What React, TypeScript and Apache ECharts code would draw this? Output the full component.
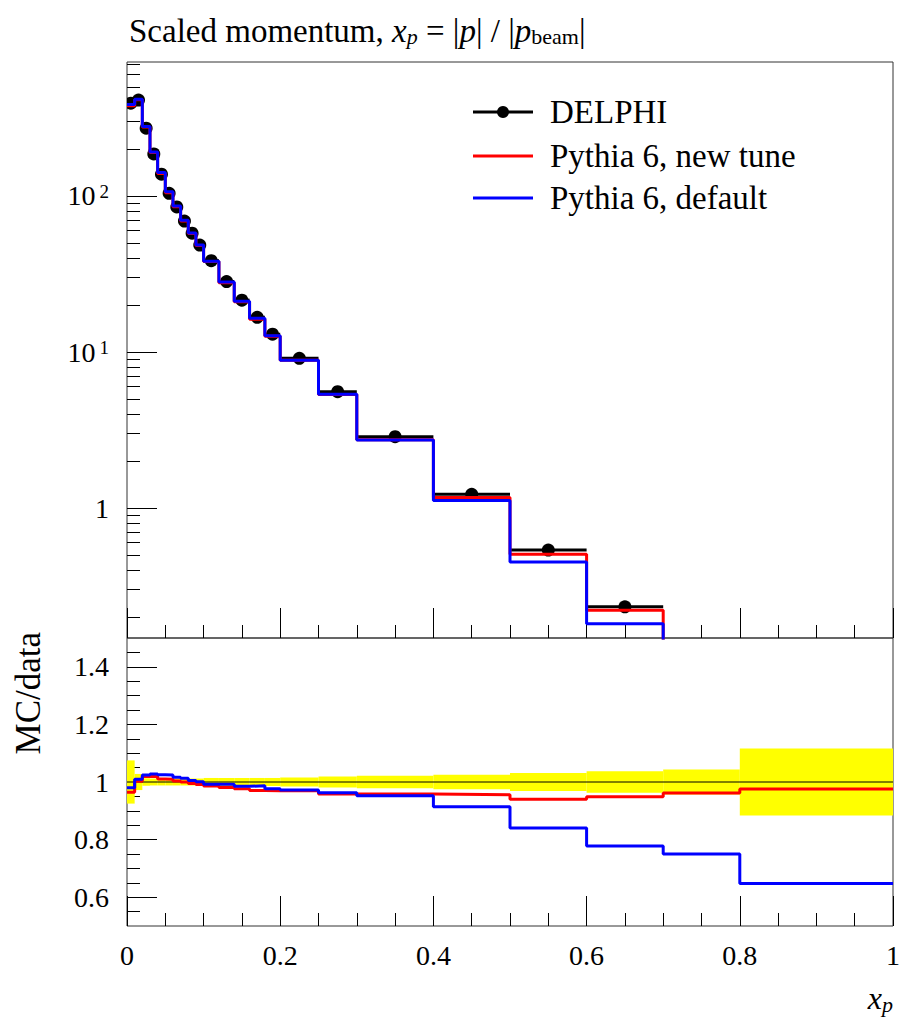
import React, { useEffect, useRef } from 'react';
import * as echarts from 'echarts';

// ---------------- data ----------------
const binEdges = [0, 0.01, 0.02, 0.03, 0.04, 0.05, 0.06, 0.07, 0.08, 0.09, 0.1, 0.12, 0.14, 0.16, 0.18, 0.2, 0.25, 0.3, 0.4, 0.5, 0.6, 0.7, 0.8, 1.0];
const delphiValues = [393, 412, 272, 186, 138, 104, 85, 69, 57.7, 48.5, 38.5, 28.3, 21.5, 16.7, 13.0, 9.12, 5.57, 2.865, 1.224, 0.538, 0.233, 0.09, 0.025];
const delphiRelErr = [0.075, 0.028, 0.013, 0.012, 0.012, 0.012, 0.012, 0.012, 0.012, 0.012, 0.014, 0.014, 0.014, 0.014, 0.014, 0.016, 0.019, 0.022, 0.025, 0.031, 0.037, 0.043, 0.116];
const newTuneValues = [378.9, 413.2, 277.2, 189.7, 139.4, 105.0, 85.3, 69.0, 57.4, 48.1, 37.96, 27.76, 21.0, 16.2, 12.61, 8.84, 5.34, 2.745, 1.17, 0.506, 0.221, 0.0866, 0.0244];
const defaultValues = [385.1, 416.1, 278.5, 191.2, 141.5, 106.5, 86.4, 69.9, 58.0, 48.55, 38.2, 28.07, 21.18, 16.48, 12.69, 8.87, 5.36, 2.727, 1.119, 0.452, 0.1813, 0.0675, 0.0162];

const xTickLabels = ['0', '0.2', '0.4', '0.6', '0.8', '1'];
const mainYTicks = [1, 10, 100];
const mainYMinorTicks = [0.2, 0.3, 0.4, 0.5, 0.6, 0.7, 0.8, 0.9, 2, 3, 4, 5, 6, 7, 8, 9, 20, 30, 40, 50, 60, 70, 80, 90, 200, 300, 400, 500, 600, 700];
const ratioYTicks = [0.6, 0.8, 1, 1.2, 1.4];
const ratioYTickLabels = ['0.6', '0.8', '1', '1.2', '1.4'];
const ratioYMinorTicks = [0.55, 0.65, 0.7, 0.75, 0.85, 0.9, 0.95, 1.05, 1.1, 1.15, 1.25, 1.3, 1.35, 1.45];

const seriesNames = ['DELPHI', 'Pythia 6, new tune', 'Pythia 6, default'];
const seriesColors = ['#000000', '#ff0000', '#0000ff'];

// ---------------- layout ----------------
const FONT = 'Liberation Serif';
const G_LEFT = 127;
const G_W = 766;
const MAIN_TOP = 62;
const MAIN_H = 576;
const RATIO_TOP = 638;
const RATIO_H = 288;
const MAIN_MIN = 0.147;
const MAIN_MAX = 722;

function stepData(vals: number[]) {
  const d = vals.map((v, i) => [binEdges[i], v]);
  d.push([binEdges[binEdges.length - 1], vals[vals.length - 1]]);
  return d;
}

function buildOption() {
  const tickLine = { color: '#000', width: 1 };
  const xAxis = (gridIndex: number, showLabel: boolean) => ({
    type: 'value',
    gridIndex,
    min: 0,
    max: 1,
    interval: 0.2,
    axisLine: { show: false },
    axisTick: { show: true, inside: true, length: 30, lineStyle: tickLine },
    minorTick: { show: true, splitNumber: 4, length: 13, lineStyle: tickLine },
    splitLine: { show: false },
    minorSplitLine: { show: false },
    axisLabel: {
      show: showLabel,
      fontFamily: FONT,
      fontSize: 28,
      color: '#000',
      margin: 15,
      formatter: (v: number) => xTickLabels[Math.round(v / 0.2)] ?? '',
    },
  });

  const ratios = (mc: number[]) => mc.map((m, i) => m / delphiValues[i]);

  const dataItems = delphiValues.map((v, i) => [
    binEdges[i],
    binEdges[i + 1],
    (binEdges[i] + binEdges[i + 1]) / 2,
    v,
    delphiRelErr[i],
  ]);
  const bandItems = delphiRelErr.map((e, i) => [binEdges[i], binEdges[i + 1], e]);

  const legendY = [112, 156, 198];
  const legendGraphics: any[] = [];
  seriesNames.forEach((name, i) => {
    legendGraphics.push({
      type: 'line',
      shape: { x1: 473, y1: legendY[i], x2: 533, y2: legendY[i] },
      style: { stroke: seriesColors[i], lineWidth: 3 },
    });
    if (i === 0) {
      legendGraphics.push({
        type: 'circle',
        shape: { cx: 503, cy: legendY[i], r: 6 },
        style: { fill: '#000' },
      });
    }
    legendGraphics.push({
      type: 'text',
      x: 550,
      y: legendY[i],
      style: {
        text: name,
        fontFamily: FONT,
        fontSize: 33,
        fill: '#000',
        verticalAlign: 'middle',
        align: 'left',
      },
    });
  });

  return {
    animation: false,
    backgroundColor: '#fff',
    title: {
      text: 'Scaled momentum, {i|x}{si|p} = |{i|p}| / |{i|p}{s|beam}|',
      left: 124,
      top: 9,
      textStyle: {
        fontFamily: FONT,
        fontSize: 33,
        fontWeight: 'normal',
        color: '#000',
        rich: {
          i: { fontFamily: FONT, fontSize: 33, fontStyle: 'italic', color: '#000' },
          si: { fontFamily: FONT, fontSize: 22, fontStyle: 'italic', color: '#000', verticalAlign: 'bottom', padding: [10, 0, 0, 0] },
          s: { fontFamily: FONT, fontSize: 22, color: '#000', verticalAlign: 'bottom', padding: [10, 0, 0, 0] },
        },
      },
    },
    grid: [
      { left: G_LEFT, top: MAIN_TOP, width: G_W, height: MAIN_H, show: true, borderColor: '#333', borderWidth: 1, backgroundColor: 'transparent', containLabel: false },
      { left: G_LEFT, top: RATIO_TOP, width: G_W, height: RATIO_H, show: true, borderColor: '#333', borderWidth: 1, backgroundColor: 'transparent', containLabel: false },
    ],
    xAxis: [xAxis(0, false), xAxis(1, true)],
    yAxis: [
      {
        type: 'log',
        logBase: 10,
        gridIndex: 0,
        position: 'left',
        min: MAIN_MIN,
        max: MAIN_MAX,
        axisLine: { show: false },
        splitLine: { show: false },
        axisTick: { show: true, inside: true, length: 30, lineStyle: tickLine, customValues: mainYTicks },
        axisLabel: {
          show: true,
          customValues: mainYTicks,
          fontFamily: FONT,
          fontSize: 28,
          color: '#000',
          margin: 18,
          formatter: (v: number) => {
            const n = Math.round(Math.log10(v));
            return n === 0 ? '1' : '10{sup|' + n + '}';
          },
          rich: {
            sup: { fontFamily: FONT, fontSize: 19, color: '#000', verticalAlign: 'top', padding: [0, 0, 0, 4] },
          },
        },
      },
      {
        type: 'log',
        logBase: 10,
        gridIndex: 0,
        position: 'left',
        min: MAIN_MIN,
        max: MAIN_MAX,
        axisLine: { show: false },
        splitLine: { show: false },
        axisLabel: { show: false },
        axisTick: { show: true, inside: true, length: 13, lineStyle: tickLine, customValues: mainYMinorTicks },
      },
      {
        type: 'value',
        gridIndex: 1,
        position: 'left',
        min: 0.5,
        max: 1.5,
        axisLine: { show: false },
        splitLine: { show: false },
        axisTick: { show: true, inside: true, length: 30, lineStyle: tickLine, customValues: ratioYTicks },
        axisLabel: {
          show: true,
          customValues: ratioYTicks,
          fontFamily: FONT,
          fontSize: 28,
          color: '#000',
          margin: 18,
          formatter: (v: number) => {
            const idx = ratioYTicks.findIndex((t) => Math.abs(t - v) < 1e-6);
            return idx >= 0 ? ratioYTickLabels[idx] : '';
          },
        },
      },
      {
        type: 'value',
        gridIndex: 1,
        position: 'left',
        min: 0.5,
        max: 1.5,
        axisLine: { show: false },
        splitLine: { show: false },
        axisLabel: { show: false },
        axisTick: { show: true, inside: true, length: 13, lineStyle: tickLine, customValues: ratioYMinorTicks },
      },
    ],
    series: [
      {
        name: seriesNames[0],
        type: 'custom',
        xAxisIndex: 0,
        yAxisIndex: 0,
        clip: true,
        encode: { x: [0, 1, 2], y: [3] },
        data: dataItems,
        z: 2,
        renderItem: (params: any, api: any) => {
          const lo = api.value(0);
          const hi = api.value(1);
          const c = api.value(2);
          const v = api.value(3);
          const e = api.value(4);
          const a = api.coord([lo, v]);
          const b = api.coord([hi, v]);
          const p = api.coord([c, v]);
          const t = api.coord([c, v * (1 + e)]);
          const u = api.coord([c, v * (1 - e)]);
          return {
            type: 'group',
            children: [
              { type: 'line', shape: { x1: a[0], y1: a[1], x2: b[0], y2: b[1] }, style: { stroke: '#000', lineWidth: 3 } },
              { type: 'line', shape: { x1: t[0], y1: t[1], x2: u[0], y2: u[1] }, style: { stroke: '#000', lineWidth: 3 } },
              { type: 'circle', shape: { cx: p[0], cy: p[1], r: 6.5 }, style: { fill: '#000' } },
            ],
          };
        },
      },
      {
        name: seriesNames[1],
        type: 'line',
        xAxisIndex: 0,
        yAxisIndex: 0,
        step: 'end',
        symbol: 'none',
        clip: true,
        z: 3,
        lineStyle: { color: seriesColors[1], width: 3 },
        data: stepData(newTuneValues),
      },
      {
        name: seriesNames[2],
        type: 'line',
        xAxisIndex: 0,
        yAxisIndex: 0,
        step: 'end',
        symbol: 'none',
        clip: true,
        z: 4,
        lineStyle: { color: seriesColors[2], width: 3 },
        data: stepData(defaultValues),
      },
      {
        name: 'DELPHI uncertainty',
        type: 'custom',
        xAxisIndex: 1,
        yAxisIndex: 2,
        clip: true,
        encode: { x: [0, 1], y: [2] },
        data: bandItems,
        z: 1,
        renderItem: (params: any, api: any) => {
          const lo = api.value(0);
          const hi = api.value(1);
          const e = api.value(2);
          const p1 = api.coord([lo, 1 + e]);
          const p2 = api.coord([hi, 1 - e]);
          return {
            type: 'rect',
            shape: { x: p1[0], y: p1[1], width: p2[0] - p1[0], height: p2[1] - p1[1] },
            style: { fill: '#ffff00' },
          };
        },
      },
      {
        name: 'unity',
        type: 'line',
        xAxisIndex: 1,
        yAxisIndex: 2,
        symbol: 'none',
        z: 2,
        lineStyle: { color: '#000', width: 1 },
        data: [[0, 1], [1, 1]],
      },
      {
        name: seriesNames[1] + ' / data',
        type: 'line',
        xAxisIndex: 1,
        yAxisIndex: 2,
        step: 'end',
        symbol: 'none',
        clip: true,
        z: 3,
        lineStyle: { color: seriesColors[1], width: 3 },
        data: stepData(ratios(newTuneValues)),
      },
      {
        name: seriesNames[2] + ' / data',
        type: 'line',
        xAxisIndex: 1,
        yAxisIndex: 2,
        step: 'end',
        symbol: 'none',
        clip: true,
        z: 4,
        lineStyle: { color: seriesColors[2], width: 3 },
        data: stepData(ratios(defaultValues)),
      },
    ],
    graphic: [
      ...legendGraphics,
      {
        type: 'text',
        x: 28,
        y: 632,
        rotation: Math.PI / 2,
        style: {
          text: 'MC/data',
          fontFamily: FONT,
          fontSize: 35,
          fill: '#000',
          align: 'right',
          verticalAlign: 'middle',
        },
      },
      {
        type: 'text',
        x: 893,
        y: 998,
        style: {
          text: '{i|x}{s|p}',
          fontFamily: FONT,
          fontSize: 32,
          fill: '#000',
          align: 'right',
          verticalAlign: 'middle',
          rich: {
            i: { fontFamily: FONT, fontSize: 32, fontStyle: 'italic', fill: '#000' },
            s: { fontFamily: FONT, fontSize: 22, fontStyle: 'italic', fill: '#000', verticalAlign: 'bottom', padding: [12, 0, 0, 0] },
          },
        },
      },
    ],
  };
}

export default function App() {
  const ref = useRef<HTMLDivElement>(null);
  useEffect(() => {
    if (!ref.current) return;
    const chart = echarts.init(ref.current, null, { renderer: 'svg' });
    chart.setOption(buildOption() as any);
    return () => {
      chart.dispose();
    };
  }, []);
  return (
    <div
      ref={ref}
      style={{ position: 'absolute', left: 0, top: 0, width: 906, height: 1021, background: '#fff' }}
    />
  );
}
